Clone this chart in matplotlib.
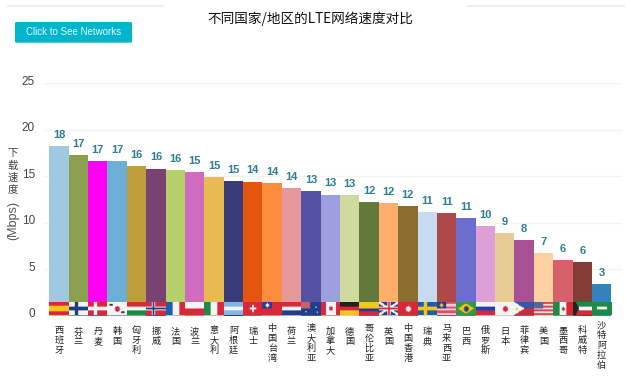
import numpy as np
import matplotlib
matplotlib.use("Agg")
import matplotlib.pyplot as plt
from matplotlib.colors import to_rgb
from matplotlib.patches import FancyBboxPatch
from matplotlib.lines import Line2D
from matplotlib.transforms import ScaledTranslation

plt.rcParams['font.family'] = ['Noto Sans CJK SC', 'DejaVu Sans']

countries = ["西班牙","芬兰","丹麦","韩国","匈牙利","挪威","法国","波兰","意大利","阿根廷","瑞士",
             "中国台湾","荷兰","澳大利亚","加拿大","德国","哥伦比亚","英国","中国香港","瑞典",
             "马来西亚","巴西","俄罗斯","日本","菲律宾","美国","墨西哥","科威特","沙特阿拉伯"]
speeds = [18.26,17.26,16.65,16.6,16.1,15.8,15.6,15.4,14.86,14.5,14.4,14.2,13.75,13.4,13.0,12.95,
          12.2,12.1,11.8,11.15,11.0,10.5,9.6,8.85,8.1,6.75,6.0,5.75,3.35]
value_labels = [18,17,17,17,16,16,16,15,15,15,14,14,14,13,13,13,12,12,12,11,11,11,10,9,8,7,6,6,3]
bar_colors = ["#9FC9E0","#8A9F50","#FF00F5","#6BAED6","#BD9E39","#7B4173","#B5CF6B","#CE6DBD",
              "#E7BA52","#393B79","#E6550D","#FD8D3C","#E7969C","#5254A3","#9C9EDE","#CEDB9C",
              "#637939","#FDAE6B","#8C6D31","#C6DBEF","#AD494A","#6B6ECF","#DE9ED6","#E7CB94",
              "#A55194","#FDD0A2","#D6616B","#843C39","#3182BD"]
y_ticks = [0,5,10,15,20,25]

W, H = 626, 378
R, WH, B, Y, G, K = "#D8283A", "#F4F4F4", "#1F3F8F", "#F5C518", "#1E8A4A", "#222222"
H_, V_ = 24, 14

def blank(c=WH):
    a = np.zeros((V_, H_, 3)); a[:, :] = to_rgb(c); return a
def hs(*cols, weights=None):
    a = blank(); w = np.array(weights or [1]*len(cols), float); e = np.round(np.cumsum(w)/w.sum()*V_).astype(int); s = 0
    for c, t in zip(cols, e):
        a[s:t] = to_rgb(c); s = t
    return a
def vs(*cols):
    a = blank(); e = np.round(np.arange(1, len(cols)+1)/len(cols)*H_).astype(int); s = 0
    for c, t in zip(cols, e):
        a[:, s:t] = to_rgb(c); s = t
    return a
def cross(bg, c, inner=None):
    a = blank(bg); a[5:9] = to_rgb(c); a[:, 7:11] = to_rgb(c)
    if inner:
        a[6:8] = to_rgb(inner); a[:, 8:10] = to_rgb(inner)
    return a
def dot(a, c, r=3, cx=12, cy=7):
    yy, xx = np.mgrid[:V_, :H_]
    a[(xx-cx)**2+(yy-cy)**2 <= r*r] = to_rgb(c); return a
def box(a, c, y0, y1, x0, x1):
    a[y0:y1, x0:x1] = to_rgb(c); return a

def uk():
    a = blank("#2A3F80"); yy, xx = np.mgrid[:V_, :H_]
    a[np.abs(yy*H_/V_-xx) < 2.5] = to_rgb(WH); a[np.abs((V_-1-yy)*H_/V_-xx) < 2.5] = to_rgb(WH)
    a[5:9] = to_rgb(WH); a[:, 10:14] = to_rgb(WH); a[6:8] = to_rgb(R); a[:, 11:13] = to_rgb(R)
    return a
def us():
    a = hs(*["#C94A55", "#F0D8D8"]*3 + ["#C94A55"]); return box(a, "#5A62A0", 0, 7, 0, 11)
def ph():
    a = hs("#3A55A8", "#D02A3A"); yy, xx = np.mgrid[:V_, :H_]
    a[xx < 12-np.abs(yy-6.5)*12/7] = to_rgb(WH); return dot(a, Y, 1, 3, 7)
def kw():
    a = hs("#1E8A4A", WH, R); yy, xx = np.mgrid[:V_, :H_]
    a[xx < 7-np.abs(yy-6.5)*0.6] = to_rgb(K); return a
def br():
    a = blank("#2E9A45"); yy, xx = np.mgrid[:V_, :H_]
    a[np.abs(xx-11.5)/10+np.abs(yy-6.5)/5.5 < 1] = to_rgb(Y); return dot(a, "#2A3F90", 3, 12, 7)
def ch():
    a = blank(R); box(a, WH, 6, 8, 8, 16); box(a, WH, 3, 11, 11, 13); return a

flags = [
    hs(R, Y, R, weights=[1, 2, 1]), cross(WH, "#1F3F7F"), cross(R, WH), dot(dot(blank(), R, 3), "#2A4FA0", 1, 12, 9),
    hs(R, WH, G), cross(R, WH, B), vs("#1F5FA8", WH, R), hs(WH, R),
    vs(G, WH, R), hs("#7FB5E5", WH, "#7FB5E5"), ch(), box(blank(R), "#2A3F90", 0, 7, 0, 12),
    hs(R, WH, B), box(blank("#1F3F8F"), "#C8606A", 0, 7, 0, 11), vs(R, WH, WH, R), hs(K, R, Y),
    hs(Y, B, R, weights=[2, 1, 1]), uk(), dot(blank(R), WH, 3), cross("#1F5F9F", Y),
    box(hs(*["#D8506A", "#F2C8D0"]*3), "#2A3F90", 0, 7, 0, 11), br(), hs(WH, "#2040B0", R), dot(blank(), R, 3),
    ph(), us(), vs(G, WH, R), kw(), blank("#1E8A4A"),
]
box(flags[3], "#333333", 2, 4, 3, 7); box(flags[3], "#333333", 10, 12, 17, 21)
dot(flags[11], WH, 2, 6, 3)
box(flags[13], WH, 10, 11, 5, 7); box(flags[13], WH, 5, 6, 17, 19); box(flags[13], WH, 10, 12, 19, 20)
box(flags[14], R, 5, 9, 10, 14)
dot(flags[20], Y, 2, 5, 3)
dot(flags[26], "#8A5A30", 2, 12, 7)
box(flags[28], WH, 5, 8, 6, 18)

left_px, right_px, top_px, bot_px = 44, 622, 83, 315.5
first_edge, bar_px = 49.3, 19.38
latin = ['Liberation Sans', 'DejaVu Sans']
fig = plt.figure(figsize=(W/100, H/100), dpi=100)
ax = fig.add_axes([left_px/W, 1-bot_px/H, (right_px-left_px)/W, (bot_px-top_px)/H])
x = np.arange(len(countries))
ax.bar(x, speeds, width=1.0, color=bar_colors, zorder=2)
for i, f in enumerate(flags):
    ax.imshow(f, extent=(i-0.5, i+0.5, 0, 1.3), aspect='auto', interpolation='bilinear', zorder=3)
ax.set_xlim(-0.5-(first_edge-left_px)/bar_px, -0.5+(right_px-first_edge)/bar_px)
ax.set_ylim(0, 25)
for s in ax.spines.values():
    s.set_visible(False)
ax.set_yticks(y_ticks)
ax.grid(axis='y', color='#F3F3F3', lw=1, zorder=0)
ax.set_axisbelow(True)
ax.tick_params(axis='y', length=0, pad=6.5, labelsize=8.5, labelcolor='#444444')
ax.set_xticks(x)
ax.set_xticklabels(["\n".join(c) for c in countries], fontsize=6.6, color='#222222', linespacing=1.12, va='top')
ax.tick_params(axis='x', length=0, pad=8.5)
top_shift = {2: 0, 3: 1, 4: 3, 5: 6}
for t, c in zip(ax.get_xticklabels(), countries):
    t.set_transform(t.get_transform()+ScaledTranslation(0, top_shift[len(c)]/100, fig.dpi_scale_trans))
shift = ScaledTranslation(0, 2.8/100, fig.dpi_scale_trans)
for t in ax.get_yticklabels():
    t.set_transform(t.get_transform()+shift)
    t.set_fontfamily(latin)
for xi, v, lab in zip(x, speeds, value_labels):
    ax.annotate(str(lab), (xi, v), xytext=(0, 8), textcoords='offset points', ha='center', va='center',
                fontsize=8, fontweight='bold', color='#2B7F8F', family=latin, zorder=4)

def fx(p): return p/W
def fy(p): return 1-p/H
fig.text(fx(310), fy(19), "不同国家/地区的LTE网络速度对比", ha='center', va='center', fontsize=9.8, color='#111111')
for a, b in [(8, 163), (468, 624)]:
    fig.add_artist(Line2D([fx(a), fx(b)], [fy(6), fy(6)], color='#EEEEEE', lw=1.5))
fig.add_artist(FancyBboxPatch((15, H-42.7), 117, 20.7, boxstyle="round,pad=0,rounding_size=1.5",
                              transform=None, fc='#00B5CC', ec='none'))
fig.text(fx(74), fy(32), "Click to See Networks", ha='center', va='center', fontsize=7.0, color='#E8FAFC',
         family=latin)
for ch_, py in zip("下载速度", [152.5, 165.5, 178, 190.5]):
    fig.text(fx(13), fy(py), ch_, ha='center', va='center', fontsize=7.5, color='#444444')
fig.text(fx(13), fy(220), "(Mbps)", ha='center', va='center', rotation=90, fontsize=9, color='#555555',
         family=latin)
fig.savefig("out.png", dpi=100)
